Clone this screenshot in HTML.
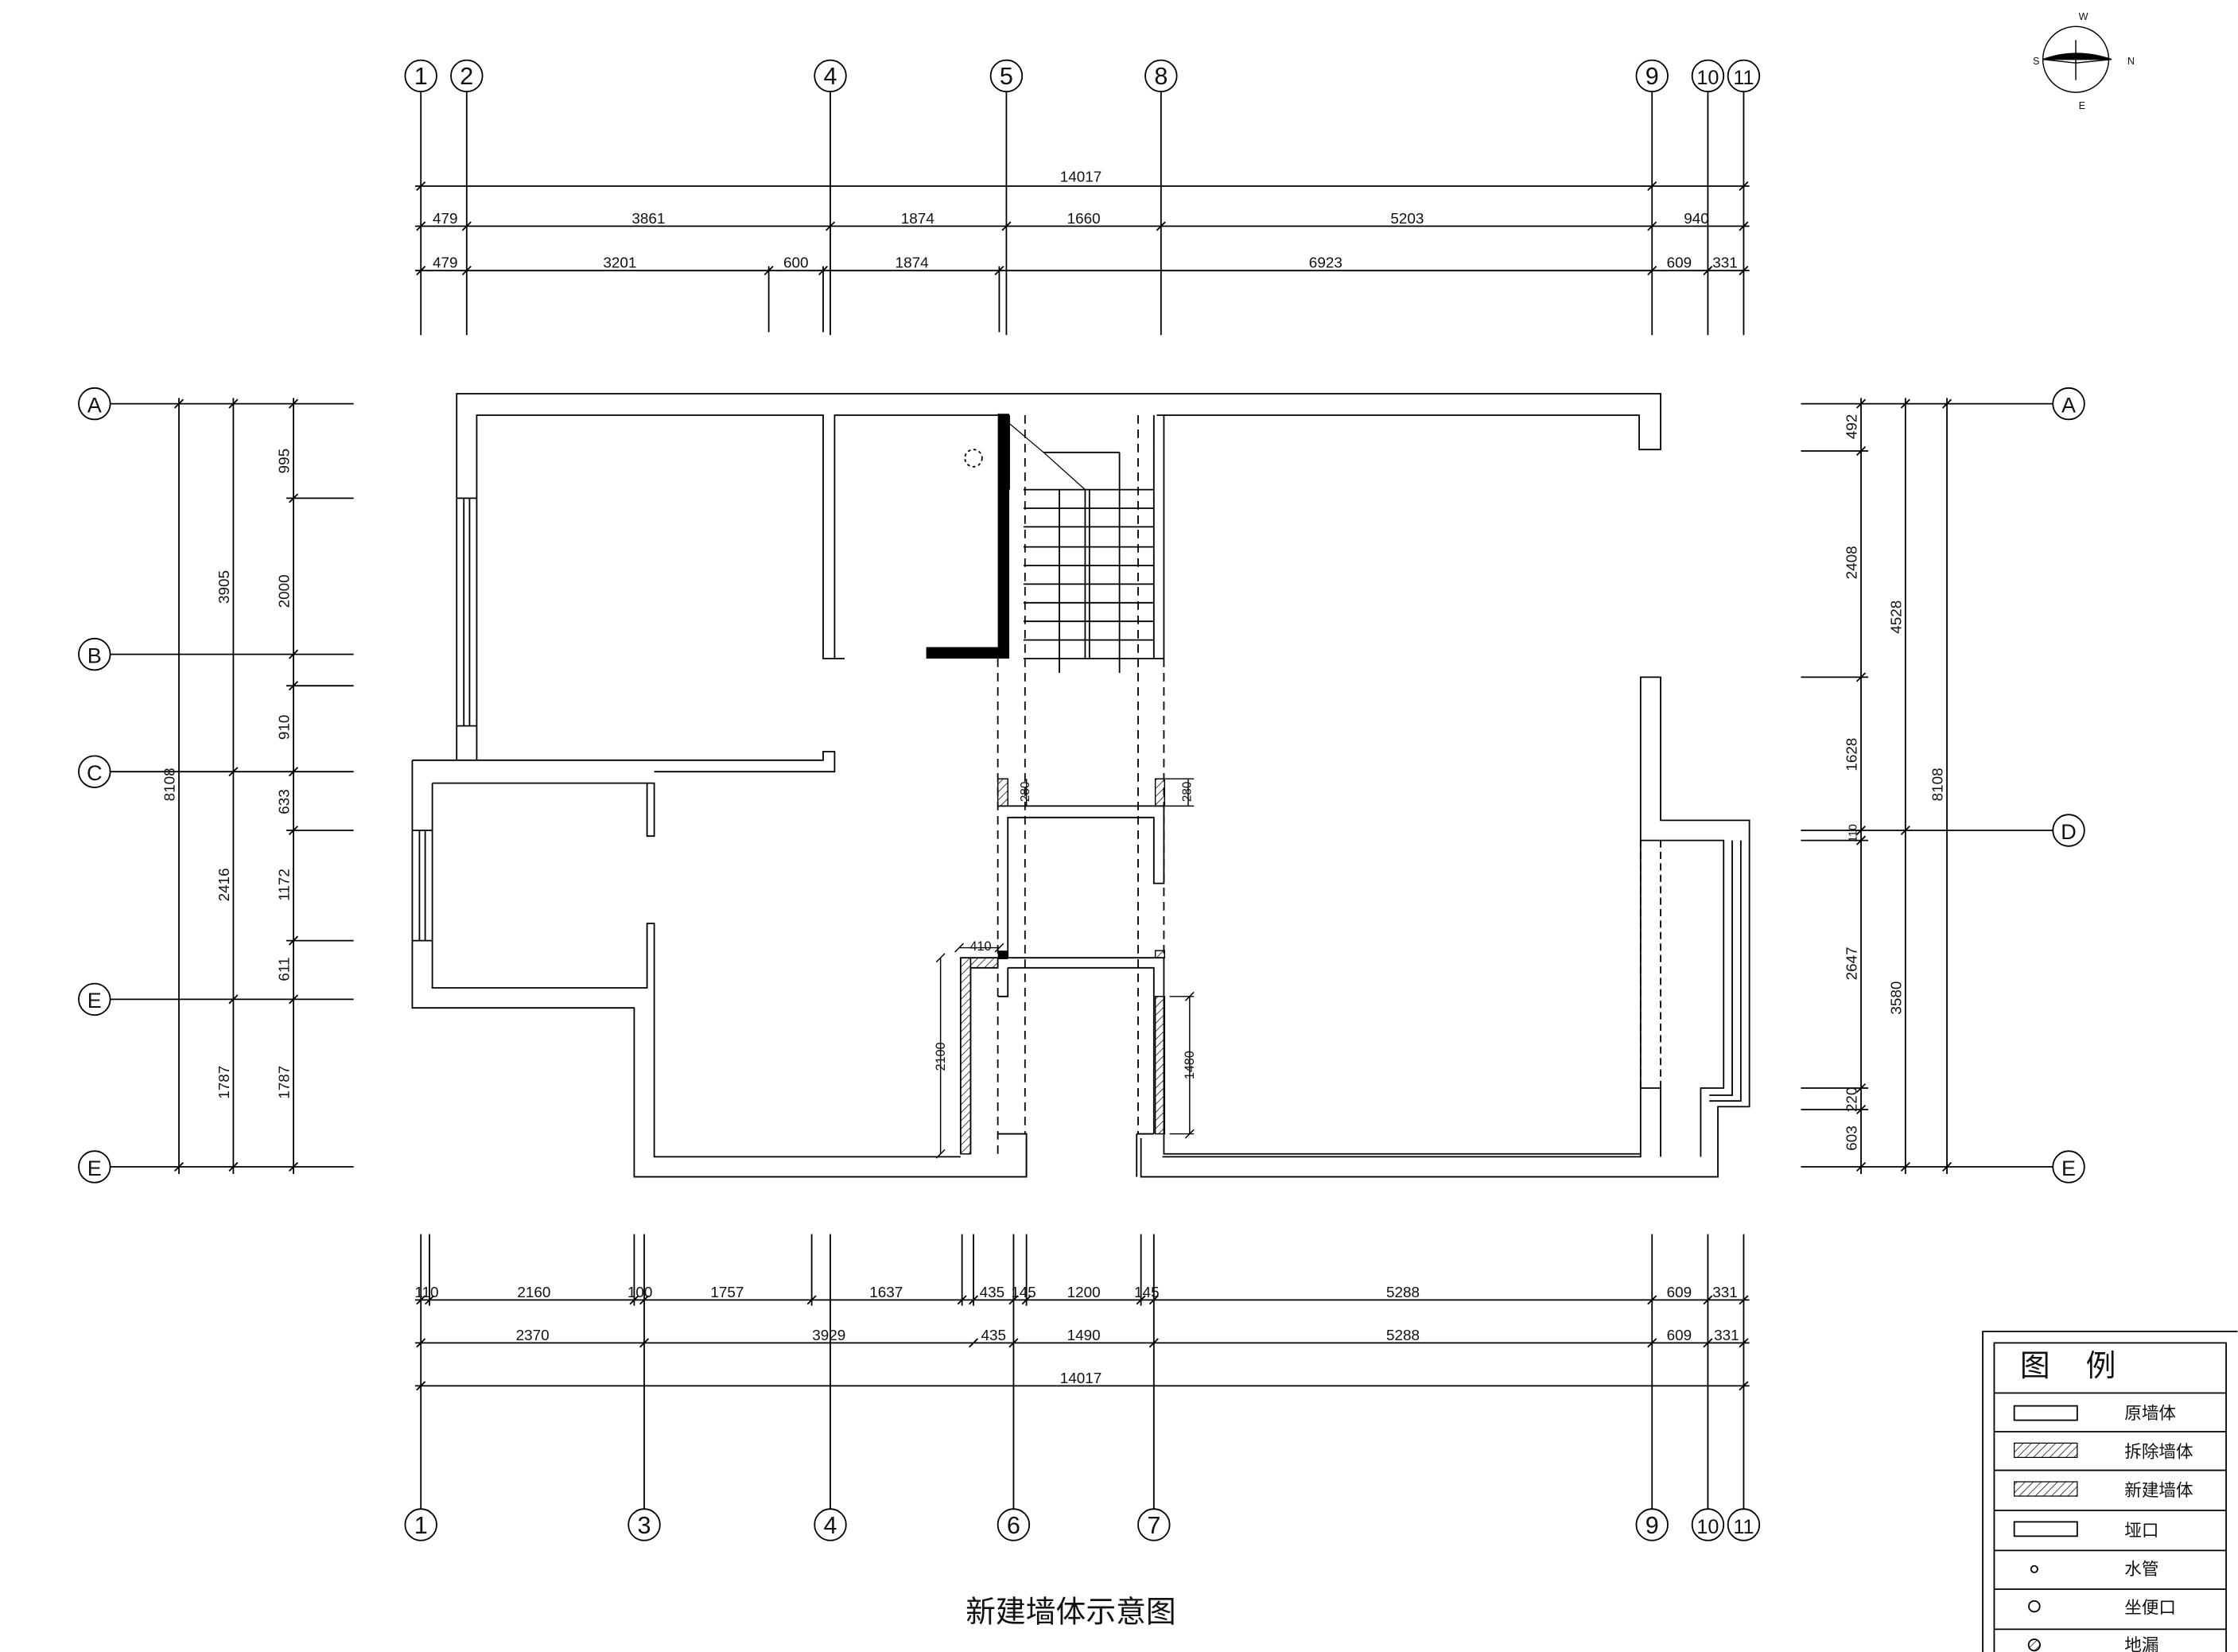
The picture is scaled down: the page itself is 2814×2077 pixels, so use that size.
<!DOCTYPE html>
<html><head><meta charset="utf-8"><style>
html,body{margin:0;padding:0;background:#fff}
svg{display:block}
text{font-family:"Liberation Sans","Noto Sans CJK SC",sans-serif;fill:#111}
.d{font-size:10.5px}
</style></head><body>
<svg width="2814" height="2077" viewBox="0 0 1563.3 1153.9" preserveAspectRatio="none" xmlns="http://www.w3.org/2000/svg">
<defs>
<pattern id="h" patternUnits="userSpaceOnUse" width="4" height="4" patternTransform="rotate(45)"><line x1="0" y1="0" x2="0" y2="4" stroke="#000" stroke-width="0.8"/></pattern>
</defs>
<rect width="1563.3" height="1153.9" fill="#fff"/>
<g stroke="#000" stroke-width="1" fill="none">
<!-- top axis -->
<g>
<circle cx="294" cy="53" r="11"/><circle cx="326" cy="53" r="11"/><circle cx="580" cy="53" r="11"/><circle cx="703" cy="53" r="11"/><circle cx="811" cy="53" r="11"/><circle cx="1154" cy="53" r="11"/><circle cx="1193" cy="53" r="11"/><circle cx="1218" cy="53" r="11"/>
<path d="M294 64V234M326 64V234M580 64V234M703 64V234M811 64V234M1154 64V234M1193 64V234M1218 64V234M537 186V232M575 186V232M698 186V232"/>
<path d="M290 130H1222M290 158H1222M290 189H1222"/>
<path d="M291 133l6-6M1151 133l6-6M1215 133l6-6M291 161l6-6M323 161l6-6M577 161l6-6M700 161l6-6M808 161l6-6M1151 161l6-6M1215 161l6-6M291 192l6-6M323 192l6-6M534 192l6-6M572 192l6-6M695 192l6-6M1151 192l6-6M1190 192l6-6M1215 192l6-6"/>
</g>
<!-- bottom axis -->
<g>
<circle cx="294" cy="1065" r="11"/><circle cx="450" cy="1065" r="11"/><circle cx="580" cy="1065" r="11"/><circle cx="708" cy="1065" r="11"/><circle cx="806" cy="1065" r="11"/><circle cx="1154" cy="1065" r="11"/><circle cx="1193" cy="1065" r="11"/><circle cx="1218" cy="1065" r="11"/>
<path d="M294 862V1054M450 862V1054M580 862V1054M708 862V1054M806 862V1054M1154 862V1054M1193 862V1054M1218 862V1054M300 862V912M443 862V912M567 862V912M672 862V912M680 862V912M717 862V912M797 862V912"/>
<path d="M290 908H1222M290 938H1222M290 968H1222"/>
<path d="M291 911l6-6M297 911l6-6M440 911l6-6M447 911l6-6M564 911l6-6M669 911l6-6M677 911l6-6M705 911l6-6M714 911l6-6M794 911l6-6M803 911l6-6M1151 911l6-6M1190 911l6-6M1215 911l6-6M291 941l6-6M447 941l6-6M677 941l6-6M705 941l6-6M803 941l6-6M1151 941l6-6M1190 941l6-6M1215 941l6-6M291 971l6-6M1215 971l6-6"/>
</g>
<!-- left axis -->
<g>
<circle cx="66" cy="282" r="11"/><circle cx="66" cy="457" r="11"/><circle cx="66" cy="539" r="11"/><circle cx="66" cy="698" r="11"/><circle cx="66" cy="815" r="11"/>
<path d="M77 282H247M77 457H247M77 539H247M77 698H247M77 815H247M200 348H247M200 479H247M200 580H247M200 657H247"/>
<path d="M125 278V820M163 278V820M205 278V820"/>
<path d="M122 285l6-6M122 818l6-6M160 285l6-6M160 542l6-6M160 701l6-6M160 818l6-6M202 285l6-6M202 351l6-6M202 460l6-6M202 482l6-6M202 542l6-6M202 583l6-6M202 660l6-6M202 701l6-6M202 818l6-6"/>
</g>
<!-- right axis -->
<g>
<circle cx="1445" cy="282" r="11"/><circle cx="1445" cy="580" r="11"/><circle cx="1445" cy="815" r="11"/>
<path d="M1258 282H1434M1258 580H1434M1258 815H1434M1258 315H1305M1258 473H1305M1258 587H1305M1258 760H1305M1258 775H1305"/>
<path d="M1300 278V820M1331 278V820M1360 278V820"/>
<path d="M1297 285l6-6M1297 318l6-6M1297 476l6-6M1297 583l6-6M1297 590l6-6M1297 763l6-6M1297 778l6-6M1297 818l6-6M1328 285l6-6M1328 583l6-6M1328 818l6-6M1357 285l6-6M1357 818l6-6"/>
</g>
<!-- plan outer walls -->
<path d="M319 531V275H1160V314H1145V290H808"/>
<path d="M333 531V290H575V460H590"/>
<path d="M583 460V290H700"/>
<path d="M319 348H333M319 507H333M324 348V507M328 348V507"/>
<path d="M288 531H575V525H583V539H457"/>
<path d="M288 531V704H443V822H717V795"/>
<path d="M302 547H457V584H452V547M302 547V690H452V645H457V808H671"/>
<path d="M288 580H302M288 657H302M293 580V657M297 580V657"/>
<!-- right part -->
<path d="M797 795V822H1200V773H1222V573H1160V473H1146V808H812"/>
<path d="M1160 587H1204V760H1188V808"/>
<path d="M1210 587V765H1194M1216 587V769H1194"/>
<path d="M1146 760H1160V808M1146 587H1160"/>
<path d="M1146 587V760M1160 587V760" stroke-dasharray="5,3"/>
<!-- stair -->
<path d="M705 290V342M715 342H806M715 355H806M715 368H806M715 382H806M715 395H806M715 408H806M715 421H806M715 434H806M715 447H806M715 460H813"/>
<path d="M740 342V470M782 316V470M729 316H782M758 342V460M761 342V460M806 290V460M813 290V460"/>
<path d="M697 289L729 316L758 342" stroke-width="0.7"/>
<path d="M697 460V810M716 290V792M795 290V792M813 460V669" stroke-dasharray="6,4"/>
<circle cx="680" cy="320" r="6" stroke-dasharray="2,2"/>
<!-- lower stair walls -->
<path d="M697 563H813V617H806V571H704V669"/>
<path d="M697 669H813V806H1146"/>
<path d="M671 806V669H697M678 806V676H697M704 676H806V792M697 696H704V676"/>
<path d="M697 792H717V822M794 792H806M794 792V822"/>
</g>
<!-- thick new wall -->
<rect x="697" y="289" width="8" height="171" fill="#000"/>
<rect x="647" y="452" width="58" height="8" fill="#000"/>
<rect x="697" y="664" width="7" height="6" fill="#000"/>
<!-- hatched -->
<g stroke="#000" stroke-width="0.8">
<rect x="697" y="544" width="7" height="19" fill="url(#h)"/>
<rect x="807" y="544" width="6.5" height="19" fill="url(#h)"/>
<rect x="671" y="669" width="7" height="137" fill="url(#h)"/>
<rect x="678" y="669" width="19" height="7" fill="url(#h)"/>
<rect x="807" y="696" width="6.5" height="96" fill="url(#h)"/>
<rect x="807" y="664" width="6.5" height="5" fill="url(#h)"/>
</g>
<!-- small dims -->
<g stroke="#000" stroke-width="0.8" fill="none">
<path d="M657 669V806M654 672l6-6M654 809l6-6M670 662H698M667 665l6-6M695 665l6-6M831 696V792M828 699l6-6M828 795l6-6M817 696H834M817 792H834M717 544V563M830 544V563M813 544H834M813 563H834"/>
</g>
<g class="d">
<text x="685" y="664" text-anchor="middle" font-size="9">410</text>
<text transform="translate(660,738) rotate(-90)" text-anchor="middle" font-size="9">2100</text>
<text transform="translate(834,744) rotate(-90)" text-anchor="middle" font-size="9">1480</text>
<text transform="translate(719,553) rotate(-90)" text-anchor="middle" font-size="8.5">280</text>
<text transform="translate(832,553) rotate(-90)" text-anchor="middle" font-size="8.5">280</text>
</g>
<!-- top labels -->
<g class="d" text-anchor="middle">
<text x="755" y="127">14017</text>
<text x="311" y="156">479</text><text x="453" y="156">3861</text><text x="641" y="156">1874</text><text x="757" y="156">1660</text><text x="983" y="156">5203</text><text x="1185" y="156">940</text>
<text x="311" y="187">479</text><text x="433" y="187">3201</text><text x="556" y="187">600</text><text x="637" y="187">1874</text><text x="926" y="187">6923</text><text x="1173" y="187">609</text><text x="1205" y="187">331</text>
<text x="298" y="906">110</text><text x="373" y="906">2160</text><text x="447" y="906">100</text><text x="508" y="906">1757</text><text x="619" y="906">1637</text><text x="693" y="906">435</text><text x="715" y="906">145</text><text x="757" y="906">1200</text><text x="801" y="906">145</text><text x="980" y="906">5288</text><text x="1173" y="906">609</text><text x="1205" y="906">331</text>
<text x="372" y="936">2370</text><text x="579" y="936">3929</text><text x="694" y="936">435</text><text x="757" y="936">1490</text><text x="980" y="936">5288</text><text x="1173" y="936">609</text><text x="1206" y="936">331</text>
<text x="755" y="966">14017</text>
</g>
<!-- rotated left/right labels -->
<g class="d" text-anchor="middle">
<text transform="translate(122,548) rotate(-90)">8108</text>
<text transform="translate(160,410) rotate(-90)">3905</text>
<text transform="translate(160,618) rotate(-90)">2416</text>
<text transform="translate(160,756) rotate(-90)">1787</text>
<text transform="translate(202,322) rotate(-90)">995</text>
<text transform="translate(202,413) rotate(-90)">2000</text>
<text transform="translate(202,508) rotate(-90)">910</text>
<text transform="translate(202,560) rotate(-90)">633</text>
<text transform="translate(202,618) rotate(-90)">1172</text>
<text transform="translate(202,677) rotate(-90)">611</text>
<text transform="translate(202,756) rotate(-90)">1787</text>
<text transform="translate(1297,298) rotate(-90)">492</text>
<text transform="translate(1297,393) rotate(-90)">2408</text>
<text transform="translate(1297,527) rotate(-90)">1628</text>
<text transform="translate(1297,582) rotate(-90)" font-size="8">110</text>
<text transform="translate(1297,673) rotate(-90)">2647</text>
<text transform="translate(1297,768) rotate(-90)">220</text>
<text transform="translate(1297,795) rotate(-90)">603</text>
<text transform="translate(1328,431) rotate(-90)">4528</text>
<text transform="translate(1328,697) rotate(-90)">3580</text>
<text transform="translate(1357,548) rotate(-90)">8108</text>
</g>
<!-- axis labels -->
<g font-size="17" text-anchor="middle" style="font-family:'Liberation Serif',serif">
<text x="294" y="59">1</text><text x="326" y="59">2</text><text x="580" y="59">4</text><text x="703" y="59">5</text><text x="811" y="59">8</text><text x="1154" y="59">9</text><text x="1193" y="59" font-size="14">10</text><text x="1218" y="59" font-size="14">11</text>
<text x="294" y="1071">1</text><text x="450" y="1071">3</text><text x="580" y="1071">4</text><text x="708" y="1071">6</text><text x="806" y="1071">7</text><text x="1154" y="1071">9</text><text x="1193" y="1071" font-size="14">10</text><text x="1218" y="1071" font-size="14">11</text>
<text x="66" y="288" font-size="15">A</text><text x="66" y="463" font-size="15">B</text><text x="66" y="545" font-size="15">C</text><text x="66" y="704" font-size="15">E</text><text x="66" y="821" font-size="15">E</text>
<text x="1445" y="288" font-size="15">A</text><text x="1445" y="586" font-size="15">D</text><text x="1445" y="821" font-size="15">E</text>
</g>
<!-- compass -->
<g stroke="#000" fill="none" stroke-width="0.8">
<circle cx="1450" cy="41.5" r="23"/>
<path d="M1450 28V56M1427 41.5L1450 44L1475 41.5"/>
<path d="M1427 41.5Q1450 33 1475 41.5Z" fill="#000"/>
</g>
<text x="1420" y="45" font-size="7">S</text><text x="1486" y="45" font-size="7">N</text><text x="1452" y="14" font-size="7">W</text><text x="1452" y="76" font-size="7">E</text>
<!-- title -->
<text x="748" y="1133" font-size="21" text-anchor="middle">新建墙体示意图</text>
<!-- legend -->
<g stroke="#000" fill="none" stroke-width="1">
<path d="M1385 1157V930H1563M1393 1157V938H1555V1157"/>
<path d="M1393 973H1555M1393 1000H1555M1393 1027H1555M1393 1055H1555M1393 1083H1555M1393 1110H1555M1393 1138H1555"/>
<rect x="1407" y="982" width="44" height="10"/>
<rect x="1407" y="1008" width="44" height="10" fill="url(#h)" stroke-width="0.7"/>
<rect x="1407" y="1035" width="44" height="10" fill="url(#h)" stroke-width="0.7"/>
<rect x="1407" y="1063" width="44" height="10"/>
<circle cx="1421" cy="1096" r="2.3"/>
<circle cx="1421" cy="1122" r="3.8"/>
<circle cx="1421" cy="1149" r="4" fill="url(#h)"/>
</g>
<text x="1411" y="961" font-size="21">图</text><text x="1457" y="961" font-size="21">例</text>
<g font-size="12">
<text x="1484" y="991">原墙体</text><text x="1484" y="1018">拆除墙体</text><text x="1484" y="1045">新建墙体</text><text x="1484" y="1073">垭口</text><text x="1484" y="1100">水管</text><text x="1484" y="1127">坐便口</text><text x="1484" y="1153">地漏</text>
</g>
</svg>
</body></html>
